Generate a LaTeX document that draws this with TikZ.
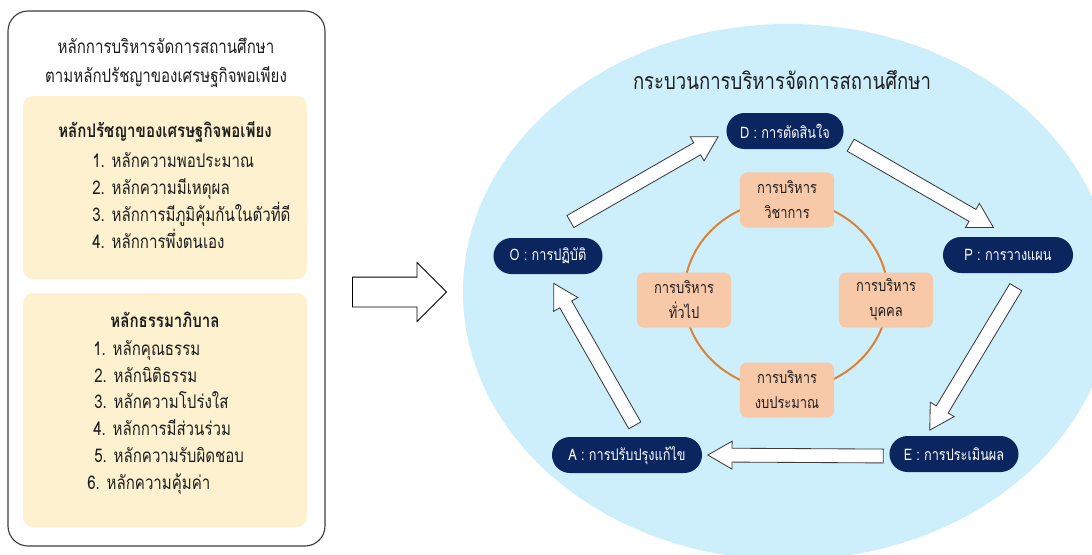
\documentclass[tikz,border=0pt]{standalone}
\usepackage{fontspec}
\newfontfamily\thaifont[Script=Thai, FakeStretch=0.8]{Loma}
\usepackage{tikz}
\usetikzlibrary{calc}
\usetikzlibrary{shapes.arrows}
\definecolor{skyfill}{RGB}{205,238,251}
\definecolor{navy}{RGB}{11,38,94}
\definecolor{peach}{RGB}{248,201,168}
\definecolor{ringline}{RGB}{222,128,50}
\definecolor{cream}{RGB}{253,241,207}
\definecolor{inkgray}{RGB}{30,30,30}
\definecolor{edgegray}{RGB}{60,60,60}
\tikzstyle{every node}+=[inner sep=0pt]
\tikzstyle{frame} = [draw=edgegray, line width=0.8pt, rounded corners=0.5cm]
\tikzstyle{panel} = [fill=cream, rounded corners=0.25cm]
\tikzstyle{heading} = [text=inkgray, anchor=base, font=\thaifont\fontsize{13.4}{16}\selectfont]
\tikzstyle{subhead} = [heading, font=\thaifont\bfseries\fontsize{13.4}{16}\selectfont]
\tikzstyle{item} = [text=inkgray, anchor=base west, font=\thaifont\fontsize{13.4}{16}\selectfont]
\tikzstyle{phase} = [rectangle, fill=navy, text=white, rounded corners=0.45cm, minimum height=0.9cm, font=\thaifont\fontsize{11.3}{13}\selectfont]
\tikzstyle{area} = [rectangle, fill=peach, text=inkgray, rounded corners=0.175cm, minimum width=2.35cm, minimum height=1.375cm, align=center, font=\thaifont\fontsize{11.5}{17.8}\selectfont]
\tikzstyle{blockarr} = [single arrow, draw=edgegray, fill=white, line width=0.6pt, inner xsep=0pt, inner ysep=0.1625cm, single arrow head extend=0.175cm, single arrow tip angle=60]
\tikzstyle{bigarrow} = [single arrow, draw=black, fill=white, line width=0.6pt, inner xsep=0pt, inner ysep=0.3625cm, minimum height=2.35cm, single arrow head extend=0.3625cm, single arrow tip angle=90]
% block arrow from #1 to #2
\newcommand{\blockarrow}[2]{%
  \path let \p1=(#1), \p2=(#2), \n1={atan2(\y2-\y1,\x2-\x1)}, \n2={veclen(\x2-\x1,\y2-\y1)} in
    node[blockarr, minimum height=\n2, rotate=\n1, anchor=tail] at (\p1) {};}
\begin{document}
\begin{tikzpicture}[x=0.025cm, y=-0.025cm]
\useasboundingbox (0,0) rectangle (1092,554);
% Background
\begin{scope}
  \clip (0,0) rectangle (1092,554);
  \fill[skyfill] (788,292) ellipse [x radius=325, y radius=268];
\end{scope}
% Left panel
\draw[frame] (8,11) rectangle (325,546);
\fill[panel] (23,96) rectangle (307,279);
\fill[panel] (23,293) rectangle (307,527);
\node[heading] (title-1) at (166,53) {หลักการบริหารจัดการสถานศึกษา};
\node[heading] (title-2) at (166,82) {ตามหลักปรัชญาของเศรษฐกิจพอเพียง};
\node[subhead] (suffhead) at (165,137) {หลักปรัชญาของเศรษฐกิจพอเพียง};
\foreach \t [count=\i] in {หลักความพอประมาณ, หลักความมีเหตุผล, หลักการมีภูมิคุ้มกันในตัวที่ดี, หลักการพึ่งตนเอง}
  \node[item] (suff-\i) at (92, 141+26.8*\i) {\i. \t};
\node[subhead] (govhead) at (165,327) {หลักธรรมาภิบาล};
\foreach \x/\t [count=\i] in {93/หลักคุณธรรม, 94/หลักนิติธรรม, 94/หลักความโปร่งใส, 93/หลักการมีส่วนร่วม, 94/หลักความรับผิดชอบ, 87/หลักความคุ้มค่า}
  \node[item] (gov-\i) at (\x, 328.4+26.8*\i) {\i. \t};
\node[bigarrow, anchor=tail] (go) at (352,292) {};
% Place nodes
\node[heading, font=\thaifont\fontsize{16.5}{19}\selectfont] (cycletitle) at (782,89) {กระบวนการบริหารจัดการสถานศึกษา};
\coordinate (hub) at (786,295);
\draw[ringline, line width=1.4pt] (hub) ellipse [x radius=102, y radius=95];
\node[area] (academic) at (787,200) {การบริหาร\\วิชาการ};
\node[area] (personnel) at (886,300) {การบริหาร\\บุคคล};
\node[area] (budget) at (787,390) {การบริหาร\\งบประมาณ};
\node[area] (general) at (684,300) {การบริหาร\\ทั่วไป};
\node[phase, minimum width=2.925cm] (D) at (785,131) {D : การตัดสินใจ};
\node[phase, minimum width=3.25cm] (P) at (1008,255) {P : การวางแผน};
\node[phase, minimum width=3.225cm] (E) at (954,454) {E : การประเมินผล};
\node[phase, minimum width=3.75cm] (A) at (627,455) {A : การปรับปรุงแก้ไข};
\node[phase, minimum width=2.725cm] (O) at (548,256) {O : การปฏิบัติ};
% Draw edges
\blockarrow{$(O.north)+(22,-16)$}{$(D.west)+(-8.5,6)$}
\blockarrow{$(D.east)+(6.5,14)$}{$(P.north)+(-15,-9.5)$}
\blockarrow{$(P.south)+(8,13.5)$}{$(E.north)+(-24,-6)$}
\blockarrow{$(E.west)+(-5.5,2)$}{$(A.east)+(6,0)$}
\blockarrow{$(A.north)+(8,-11)$}{$(O.south)+(6,9.5)$}
\end{tikzpicture}
\end{document}
